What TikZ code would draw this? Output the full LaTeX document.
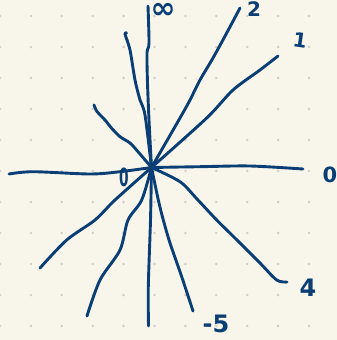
\documentclass[tikz,border=0pt]{standalone}
\usepackage{fontspec}
\setmainfont{DejaVu Sans}
\definecolor{paper}{RGB}{248,246,235}
\definecolor{dotgray}{RGB}{208,207,200}
\definecolor{ink}{RGB}{10,62,116}
\begin{document}
\begin{tikzpicture}[x=1pt,y=-1pt,
  ray/.style={draw=ink,line width=2.9pt,line cap=round,line join=round},
  lbl/.style={text=ink,inner sep=0pt,font=\bfseries\fontsize{20}{22}\selectfont}]
\useasboundingbox (0,0) rectangle (337,340);
\fill[paper] (0,0) rectangle (337,340);
\foreach \i in {0,...,10}
  \foreach \j in {0,...,10}
    \fill[dotgray] (30.9*\i,16+31*\j) circle (1.4);
\coordinate (O) at (151.5,167.5);
\coordinate (eA) at (125,34);
\coordinate (eInf) at (148,6);
\coordinate (eTwo) at (240,8);
\coordinate (eOne) at (278,56);
\coordinate (eUL) at (94,105);
\coordinate (eL) at (9,174);
\coordinate (eR) at (303,169);
\coordinate (eLL) at (40,268);
\coordinate (eLL2) at (87,316);
\coordinate (eD) at (148.5,326);
\coordinate (eFive) at (193,311);
\coordinate (eFour) at (287,282);
% rays
\draw[ray] plot[smooth] coordinates {(O) (145,115) (140,100) (135,80) (130,50) (eA) (126.5,33)};
\draw[ray] plot[smooth] coordinates {(O) (149,120) (147.5,83) (147,53) (149,43) (eInf)};
\draw[ray] plot[smooth] coordinates {(O) (180,118) (190,100) (200,80) (213,58) (226.7,33) (eTwo)};
\draw[ray] plot[smooth] coordinates {(O) (206.7,118) (233,90) (260,70) (eOne)};
\draw[ray] plot[smooth] coordinates {(O) (138,151.7) (130,143) (120,136.7) (111.7,128.3) (105,120) (97,111.5) (eUL)};
\draw[ray] plot[smooth] coordinates {(O) (120,171.7) (90,174) (33,171.7) (eL)};
\draw[ray] plot[smooth] coordinates {(O) (200,166.7) (250,166) (eR)};
\draw[ray] plot[smooth] coordinates {(O) (115,200) (95,220) (66.7,240) (eLL)};
\draw[ray] plot[smooth] coordinates {(O) (141.7,200) (128,220) (120,250) (100,280) (eLL2)};
\draw[ray] plot[smooth] coordinates {(O) (150.5,220) (148.3,286.7) (eD)};
\draw[ray] plot[smooth] coordinates {(O) (158.3,200) (163.3,220) (170,243) (181.7,276.7) (eFive)};
\draw[ray] plot[smooth] coordinates {(O) (180,181.7) (197,199) (216.7,220) (240,243) (260,263) (276.7,280) (eFour)};
% labels
\node[lbl,font=\bfseries\fontsize{30}{32}\selectfont,text height=14pt,text depth=0pt,anchor=base] (lInf) at (163,19) {∞};
\node[lbl] (lTwo) at (254,9) {2};
\node[lbl,rotate=-8] (lOne) at (300,40) {1};
\node[lbl,font=\bfseries\fontsize{25}{27}\selectfont,xscale=0.55] (lZl) at (124,177) {0};
\node[lbl,font=\bfseries\fontsize{21}{23}\selectfont] (lZr) at (330,175) {0};
\node[lbl,font=\bfseries\fontsize{24}{26}\selectfont] (lFour) at (308,288) {4};
\node[lbl,font=\bfseries\fontsize{24}{26}\selectfont] (lFive) at (216,324) {-5};
\end{tikzpicture}
\end{document}
